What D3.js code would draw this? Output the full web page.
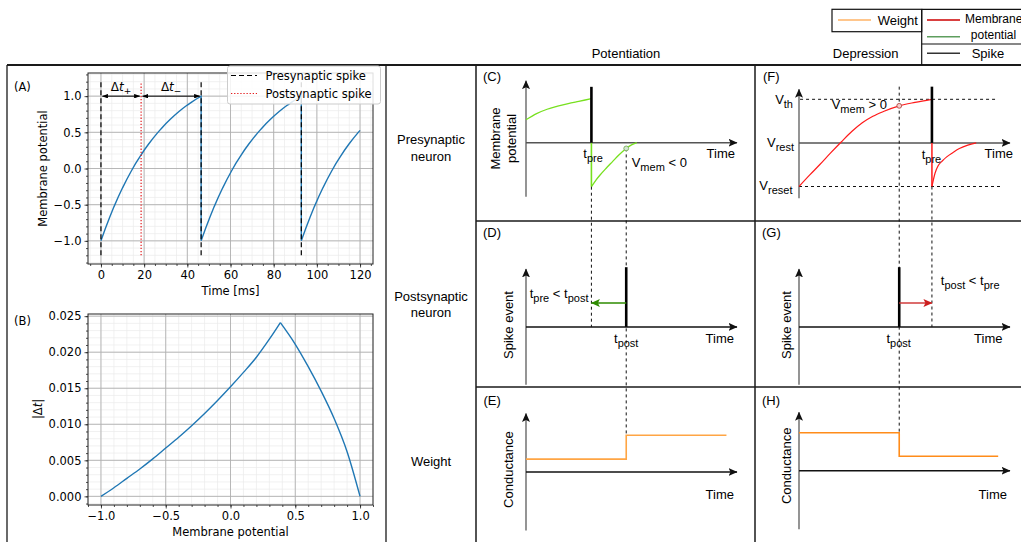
<!DOCTYPE html>
<html><head><meta charset="utf-8">
<script src="https://cdn.jsdelivr.net/npm/d3@7/dist/d3.min.js"></script>
<style>
body{margin:0;background:#fff;}
svg{display:block;}
.mpl text{font-family:"DejaVu Sans",sans-serif;}
.sch text{font-family:"Liberation Sans",Arial,sans-serif;}
</style></head><body>
<svg id="fig" width="1021" height="542"></svg>
<script>
// ================= DATA =================
// Panel A: membrane potential as a function of time since the last reset (ms)
const chargeTime  = [0,2,4,6,8,10,12,14,16,18,20,22,24,26,27.2,28,30,32,34,36,38,40,42,44,46.4];
const chargeValue = [-1,-0.832,-0.676,-0.53,-0.394,-0.267,-0.148,-0.038,0.066,0.162,0.252,0.335,0.413,0.486,0.527,0.554,0.618,0.677,0.732,0.784,0.832,0.877,0.918,0.957,1.0];
const preSpikeTimes  = [0, 46.4, 92.8];
const postSpikeTimes = [18.6];
const simEnd = 120;
const aTimeTicks = [0,20,40,60,80,100,120];
const aPotTicks  = [-1,-0.5,0,0.5,1];
// Panel B: |Δt| versus membrane potential
const bPotential = [-1,-0.9,-0.8,-0.7,-0.6,-0.5,-0.4,-0.3,-0.2,-0.1,0,0.1,0.2,0.3,0.385,0.5,0.6,0.7,0.8,0.9,1.0];
const bDelta     = [0,0.0012,0.0025,0.0038,0.0052,0.0067,0.0082,0.0098,0.0115,0.0133,0.0152,0.0172,0.0193,0.0218,0.0241,0.0211,0.0180,0.0146,0.0108,0.0062,0];
const bPotTicks   = [-1,-0.5,0,0.5,1];
const bDeltaTicks = [0,0.005,0.01,0.015,0.02,0.025];
// Schematics (abstract time units 0..100 along each time axis)
const potSpikes = [31, 47.5];            // [t_pre, t_post] potentiation
const depSpikes = [63, 47.5];            // [t_pre, t_post] depression
const potRiseT = [0,5,10,15,20,25,31];
const potRiseV = [0.52,0.66,0.76,0.83,0.89,0.94,1.0];
const potRecT  = [31,33,35,38,41,44,47.5,50,52.5];
const potRecV  = [-1,-0.86,-0.74,-0.58,-0.43,-0.28,-0.13,-0.05,0];
const depRiseT = [0,5,10,15,20,25,30,35,40,47.5,55,63];
const depRiseV = [-1,-0.74,-0.49,-0.23,0.02,0.26,0.46,0.61,0.72,0.85,0.93,1.0];
const depRecT  = [63,64.5,66,68,70,73,76,80,84];
const depRecV  = [-1,-0.69,-0.52,-0.41,-0.32,-0.22,-0.13,-0.05,0];
const potWeightT = [0,47.5,95];
const potWeightW = [0.35,1.0,1.0];
const depWeightT = [0,47.5,94.4];
const depWeightW = [1.0,0.38,0.38];

// ================= DRAWING =================
const svg = d3.select('#fig');
const defs = svg.append('defs');
function marker(id, color, len, wid, notch){
  defs.append('marker').attr('id',id).attr('markerUnits','userSpaceOnUse')
    .attr('markerWidth',len).attr('markerHeight',wid).attr('viewBox',`0 0 ${len} ${wid}`)
    .attr('refX',len-0.5).attr('refY',wid/2).attr('orient','auto-start-reverse')
    .append('path').attr('d',`M0,0L${len},${wid/2}L0,${wid}L${notch},${wid/2}Z`).attr('fill',color);
}
marker('axArrow','#111',9,8,2);
marker('greenArrow','#2e8b00',9,8,2);
marker('redArrow','#cc1f1f',9,8,2);
marker('mplArrow','#000',6,4.5,0);

// ---- table frame ----
const frame = svg.append('g').attr('stroke','#1a1a1a').attr('fill','none');
const hLines = [[7,1021,65,2],[476,1021,221,1.5],[476,1021,387,1.5]];
const vLines = [[7,65,542,1.3],[386,65,542,1.3],[476,65,542,1.5],[755,65,542,1.5]];
hLines.forEach(([a,b,y,w])=>frame.append('line').attr('x1',a).attr('x2',b).attr('y1',y).attr('y2',y).attr('stroke-width',w));
vLines.forEach(([x,a,b,w])=>frame.append('line').attr('x1',x).attr('x2',x).attr('y1',a).attr('y2',b).attr('stroke-width',w));

// ---- matplotlib-like panels ----
const mpl = svg.append('g').attr('class','mpl');
function minorTicks(dom, step){
  const a=Math.ceil(dom[0]/step-1e-9), b=Math.floor(dom[1]/step+1e-9);
  return d3.range(a,b+1).map(i=>+(i*step).toFixed(6));
}
const minus = s => s.replace('-','\u2212');
function mplAxes(x, y, xT, yT, xStep, yStep, fx, fy){
  const g = mpl.append('g');
  const [xl,xr]=x.range(), [yb,yt]=y.range();
  const xm=minorTicks(x.domain(),xStep), ym=minorTicks(y.domain(),yStep);
  g.selectAll('.gxm').data(xm).join('line').attr('x1',d=>x(d)).attr('x2',d=>x(d)).attr('y1',yb).attr('y2',yt).attr('stroke','#ebebeb').attr('stroke-width',0.7);
  g.selectAll('.gym').data(ym).join('line').attr('y1',d=>y(d)).attr('y2',d=>y(d)).attr('x1',xl).attr('x2',xr).attr('stroke','#ebebeb').attr('stroke-width',0.7);
  g.selectAll('.gx').data(xT).join('line').attr('x1',d=>x(d)).attr('x2',d=>x(d)).attr('y1',yb).attr('y2',yt).attr('stroke','#b0b0b0').attr('stroke-width',0.9);
  g.selectAll('.gy').data(yT).join('line').attr('y1',d=>y(d)).attr('y2',d=>y(d)).attr('x1',xl).attr('x2',xr).attr('stroke','#b0b0b0').attr('stroke-width',0.9);
  const axes=[
    g.append('g').attr('transform',`translate(0,${yb})`).call(d3.axisBottom(x).tickValues(xm).tickSize(2).tickFormat('')),
    g.append('g').attr('transform',`translate(0,${yb})`).call(d3.axisBottom(x).tickValues(xT).tickSize(3.5).tickPadding(3).tickFormat(fx)),
    g.append('g').attr('transform',`translate(${xl},0)`).call(d3.axisLeft(y).tickValues(ym).tickSize(2).tickFormat('')),
    g.append('g').attr('transform',`translate(${xl},0)`).call(d3.axisLeft(y).tickValues(yT).tickSize(3.5).tickPadding(3).tickFormat(fy))
  ];
  axes.forEach(a=>{a.select('.domain').remove(); a.attr('font-family',null).attr('font-size',null);
    a.selectAll('text').attr('font-size',11.5).attr('fill','#000'); a.selectAll('line').attr('stroke','#222').attr('stroke-width',0.8);});
  g.append('rect').attr('x',xl).attr('y',yt).attr('width',xr-xl).attr('height',yb-yt).attr('fill','none').attr('stroke','#222').attr('stroke-width',1);
  return g;
}

// Panel A
const xA = d3.scaleLinear().domain([-6,126]).range([88,373]);
const yA = d3.scaleLinear().domain([-1.32,1.32]).range([264,73]);
mplAxes(xA,yA,aTimeTicks,aPotTicks,5,0.1,d=>d3.format('d')(d),d=>minus(d3.format('.1f')(d)));
const aPts=[];
preSpikeTimes.forEach(s=>chargeTime.forEach((t,i)=>{ if(s+t<=simEnd+1e-6) aPts.push([s+t,chargeValue[i]]); }));
mpl.append('path').attr('d',d3.line().x(d=>xA(d[0])).y(d=>yA(d[1]))(aPts)).attr('fill','none').attr('stroke','#1f77b4').attr('stroke-width',1.4);
mpl.selectAll('.pre').data(preSpikeTimes).join('line').attr('x1',d=>xA(d)).attr('x2',d=>xA(d)).attr('y1',yA(-1.2)).attr('y2',yA(1.2))
  .attr('stroke','#000').attr('stroke-width',1.2).attr('stroke-dasharray','5,3');
mpl.selectAll('.post').data(postSpikeTimes).join('line').attr('x1',d=>xA(d)).attr('x2',d=>xA(d)).attr('y1',yA(-1.2)).attr('y2',yA(1.2))
  .attr('stroke','#e31a1c').attr('stroke-width',1.2).attr('stroke-dasharray','1.3,1.8');
// Δt arrows
const dtSpans=[[preSpikeTimes[0],postSpikeTimes[0],'+'],[postSpikeTimes[0],preSpikeTimes[1],'\u2212']];
dtSpans.forEach(([a,b,s])=>{
  mpl.append('line').attr('x1',xA(a)+1.5).attr('x2',xA(b)-1.5).attr('y1',yA(1)).attr('y2',yA(1)).attr('stroke','#000').attr('stroke-width',1)
    .attr('marker-start','url(#mplArrow)').attr('marker-end','url(#mplArrow)');
  const t=mpl.append('text').attr('x',(xA(a)+xA(b))/2).attr('y',yA(1)-5).attr('text-anchor','middle').attr('font-size',12);
  t.append('tspan').text('\u0394');
  t.append('tspan').attr('font-style','italic').text('t');
  t.append('tspan').attr('font-size',9).attr('dy',2.5).text(s);
});
// legend
const lg = mpl.append('g');
lg.append('rect').attr('x',227.5).attr('y',66).attr('width',153).attr('height',38).attr('rx',2.5).attr('fill','#fff').attr('fill-opacity',0.85).attr('stroke','#ccc');
lg.append('line').attr('x1',231).attr('x2',257).attr('y1',75.5).attr('y2',75.5).attr('stroke','#000').attr('stroke-width',1.2).attr('stroke-dasharray','5,3');
lg.append('line').attr('x1',231).attr('x2',257).attr('y1',93.5).attr('y2',93.5).attr('stroke','#e31a1c').attr('stroke-width',1.2).attr('stroke-dasharray','1.3,1.8');
lg.append('text').attr('x',265.5).attr('y',79.8).attr('font-size',11.5).text('Presynaptic spike');
lg.append('text').attr('x',265.5).attr('y',97.8).attr('font-size',11.5).text('Postsynaptic spike');
mpl.append('text').attr('x',230.5).attr('y',295).attr('text-anchor','middle').attr('font-size',11.5).text('Time [ms]');
mpl.append('text').attr('transform','translate(47,168.5) rotate(-90)').attr('text-anchor','middle').attr('font-size',11.5).text('Membrane potential');
mpl.append('text').attr('x',14).attr('y',91).attr('font-size',11.5).text('(A)');

// Panel B
const xB = d3.scaleLinear().domain([-1.1,1.1]).range([88,373]);
const yB = d3.scaleLinear().domain([-0.0012,0.0253]).range([505,314]);
mplAxes(xB,yB,bPotTicks,bDeltaTicks,0.1,0.001,d=>minus(d3.format('.1f')(d)),d=>d3.format('.3f')(d));
const bPts = bPotential.map((v,i)=>[v,bDelta[i]]);
const peak = d3.maxIndex(bDelta);
const lineB = d3.line().x(d=>xB(d[0])).y(d=>yB(d[1])).curve(d3.curveMonotoneX);
[bPts.slice(0,peak+1),bPts.slice(peak)].forEach(p=>mpl.append('path').attr('d',lineB(p)).attr('fill','none').attr('stroke','#1f77b4').attr('stroke-width',1.4));
mpl.append('text').attr('x',230.5).attr('y',535.5).attr('text-anchor','middle').attr('font-size',11.5).text('Membrane potential');
const bl = mpl.append('text').attr('transform','translate(42,409) rotate(-90)').attr('text-anchor','middle').attr('font-size',11.5);
bl.append('tspan').text('|\u0394'); bl.append('tspan').attr('font-style','italic').text('t'); bl.append('tspan').text('|');
mpl.append('text').attr('x',14).attr('y',324.5).attr('font-size',11.5).text('(B)');

// ---- schematic panels ----
const sch = svg.append('g').attr('class','sch');
function stext(x, y, parts, anchor, size){
  const t = sch.append('text').attr('x',x).attr('y',y).attr('text-anchor',anchor||'start').attr('font-size',size||13);
  let sub=false;
  parts.forEach(p=>{
    const isSub = p.startsWith('_'); const s = isSub?p.slice(1):p;
    const ts = t.append('tspan').text(s);
    if(isSub && !sub){ ts.attr('dy',4).attr('font-size',11); sub=true; }
    else if(isSub){ ts.attr('font-size',11); }
    else if(!isSub && sub){ ts.attr('dy',-4); sub=false; }
  });
  return t;
}
function vtext(x, y, s){ sch.append('text').attr('transform',`translate(${x},${y}) rotate(-90)`).attr('text-anchor','middle').attr('dominant-baseline','central').attr('font-size',13).text(s); }
function seg(x1,y1,x2,y2,color,w,extra){
  const l = sch.append('line').attr('x1',x1).attr('y1',y1).attr('x2',x2).attr('y2',y2).attr('stroke',color).attr('stroke-width',w);
  if(extra) Object.entries(extra).forEach(([k,v])=>l.attr(k,v));
  return l;
}
function axesArrows(x, y, yBot, yTip, xAxisColor){
  seg(x(0),y(yBot),x(0),y(yTip),'#7a7a7a',1.6,{'marker-end':'url(#axArrow)'});
  seg(x(0),y(0),x(100),y(0),xAxisColor,1.5,{'marker-end':'url(#axArrow)'});
}
const xPot = d3.scaleLinear().domain([0,100]).range([526,737]);
const xDep = d3.scaleLinear().domain([0,100]).range([799,1010]);
const yC = d3.scaleLinear().domain([-1,1]).range([186.7,98.7]);
const yF = d3.scaleLinear().domain([-1,1]).range([186.5,99.3]);
const yD = d3.scaleLinear().domain([0,1]).range([326.9,267.2]);
const yE = d3.scaleLinear().domain([0,1]).range([472,435.2]);
const yH = d3.scaleLinear().domain([0,1]).range([470.7,432.7]);
const dash = {'stroke-dasharray':'3,3'};
const curve = (x,y)=>d3.line().x(d=>x(d[0])).y(d=>y(d[1])).curve(d3.curveMonotoneX);
const zip = (a,b)=>a.map((v,i)=>[v,b[i]]);
const lime='#77e01f', red='#ff1a1a';

// (C)
axesArrows(xPot,yC,-1.23,1.41,'#555');
sch.append('path').attr('d',curve(xPot,yC)(zip(potRiseT,potRiseV))).attr('fill','none').attr('stroke',lime).attr('stroke-width',1.3);
sch.append('path').attr('d',curve(xPot,yC)(zip(potRecT,potRecV))).attr('fill','none').attr('stroke',lime).attr('stroke-width',1.3);
seg(xPot(potSpikes[0]),yC(0),xPot(potSpikes[0]),yC(-1),lime,1.6);
seg(xPot(potSpikes[0]),yC(0),xPot(potSpikes[0]),yC(1.27),'#000',2.6);
const cMarkV = potRecV[potRecT.indexOf(potSpikes[1])];
// dashed guides
seg(xPot(potSpikes[0]),yC(-1),xPot(potSpikes[0]),yD(0),'#111',1,dash);
seg(xPot(potSpikes[1]),yC(cMarkV),xPot(potSpikes[1]),yE(potWeightW[1]),'#111',1,dash);
sch.append('circle').attr('cx',xPot(potSpikes[1])).attr('cy',yC(cMarkV)).attr('r',2.4).attr('fill','#d5e8d4').attr('stroke','#82b366').attr('stroke-width',1);
stext(483,81,['(C)']);
stext(583.3,157.5,['t','_pre']);
stext(631.7,166.5,['V','_mem',' < 0']);
stext(735,157.5,['Time'],'end');
vtext(495,138.5,'Membrane'); vtext(511.5,138.5,'potential');

// (F)
axesArrows(xDep,yF,-1.27,1.23,'#555');
seg(xDep(0.5),yF(1),xDep(93.7),yF(1),'#111',1,dash);
seg(xDep(0),yF(-1),xDep(96),yF(-1),'#111',1,dash);
sch.append('path').attr('d',curve(xDep,yF)(zip(depRiseT,depRiseV))).attr('fill','none').attr('stroke',red).attr('stroke-width',1.2);
sch.append('path').attr('d',curve(xDep,yF)(zip(depRecT,depRecV))).attr('fill','none').attr('stroke',red).attr('stroke-width',1.2);
seg(xDep(depSpikes[0]),yF(0),xDep(depSpikes[0]),yF(-1),red,1.5);
seg(xDep(depSpikes[0]),yF(0),xDep(depSpikes[0]),yF(1.29),'#000',2.6);
const fMarkV = depRiseV[depRiseT.indexOf(depSpikes[1])];
seg(xDep(depSpikes[1]),yF(1.29),xDep(depSpikes[1]),yH(depWeightW[0]),'#111',1,dash);
seg(xDep(depSpikes[0]),yF(-1),xDep(depSpikes[0]),yD(0),'#111',1,dash);
sch.append('circle').attr('cx',xDep(depSpikes[1])).attr('cy',yF(fMarkV)).attr('r',2.4).attr('fill','#f8cecc').attr('stroke','#b85450').attr('stroke-width',1);
stext(763,81,['(F)']);
stext(793,103.5,['V','_th'],'end');
stext(794,146.5,['V','_rest'],'end');
stext(792.5,190,['V','_reset'],'end');
stext(831.7,109,['V','_mem',' > 0']);
stext(921.7,159,['t','_pre']);
stext(1013,157.5,['Time'],'end');

// (D)
axesArrows(xPot,yD,-0.97,0.97,'#111');
seg(xPot(potSpikes[1]),yD(0),xPot(potSpikes[1]),yD(1),'#000',2.6);
seg(xPot(potSpikes[1]),yD(0.4),xPot(potSpikes[0]),yD(0.4),'#2e8b00',1.4,{'marker-end':'url(#greenArrow)'});
stext(483,236.5,['(D)']);
stext(529.7,297.5,['t','_pre',' < t','_post']);
stext(614,342.5,['t','_post']);
stext(734,342.5,['Time'],'end');
vtext(508,325,'Spike event');

// (G)
axesArrows(xDep,yD,-0.97,0.97,'#111');
seg(xDep(depSpikes[1]),yD(0),xDep(depSpikes[1]),yD(1),'#000',2.6);
seg(xDep(depSpikes[1]),yD(0.4),xDep(depSpikes[0]),yD(0.4),'#d13b3b',1.4,{'marker-end':'url(#redArrow)'});
stext(762,236.5,['(G)']);
stext(940.8,285,['t','_post',' < t','_pre']);
stext(886.4,342.5,['t','_post']);
stext(1002.5,342.5,['Time'],'end');
vtext(786,325,'Spike event');

// (E)
axesArrows(xPot,yE,-1.59,1.59,'#111');
sch.append('path').attr('d',d3.line().x(d=>xPot(d[0])).y(d=>yE(d[1])).curve(d3.curveStepAfter)(zip(potWeightT,potWeightW)))
  .attr('fill','none').attr('stroke','#ffa544').attr('stroke-width',1.6);
stext(483.4,405,['(E)']);
stext(734,498.5,['Time'],'end');
vtext(508.7,469.6,'Conductance');

// (H)
axesArrows(xDep,yH,-1.54,1.54,'#111');
sch.append('path').attr('d',d3.line().x(d=>xDep(d[0])).y(d=>yH(d[1])).curve(d3.curveStepAfter)(zip(depWeightT,depWeightW)))
  .attr('fill','none').attr('stroke','#ff8c1a').attr('stroke-width',1.6);
stext(762,405,['(H)']);
stext(1007,498.5,['Time'],'end');
vtext(786.2,465.8,'Conductance');

// ---- header & row labels ----
stext(626,57.5,['Potentiation'],'middle');
stext(865.7,57.8,['Depression'],'middle');
stext(431,143.5,['Presynaptic'],'middle'); stext(431,160.5,['neuron'],'middle');
stext(431,301,['Postsynaptic'],'middle'); stext(431,317,['neuron'],'middle');
stext(431,465.5,['Weight'],'middle');

// ---- top-right legend ----
const lgd = sch.append('g');
lgd.append('rect').attr('x',832).attr('y',9.3).attr('width',89.7).attr('height',22.4).attr('fill','none').attr('stroke','#111').attr('stroke-width',1.2);
seg(921.7,9.3,921.7,65,'#111',1.2); seg(921.7,9.3,1021,9.3,'#111',1.2); seg(921.7,44,1021,44,'#111',1.2);
seg(838,20,871,20,'#ffb366',1.5);
stext(877.7,24.5,['Weight']);
seg(927,20,960,20,'#cc0000',1.5);
seg(927,36.7,960,36.7,'#5e9e5e',1.5);
stext(965,23,['Membrane'],'start',12);
stext(993.5,38.5,['potential'],'middle',12);
seg(927,53.3,960,53.3,'#333',1.5);
stext(971.7,57.8,['Spike']);
</script></body></html>
